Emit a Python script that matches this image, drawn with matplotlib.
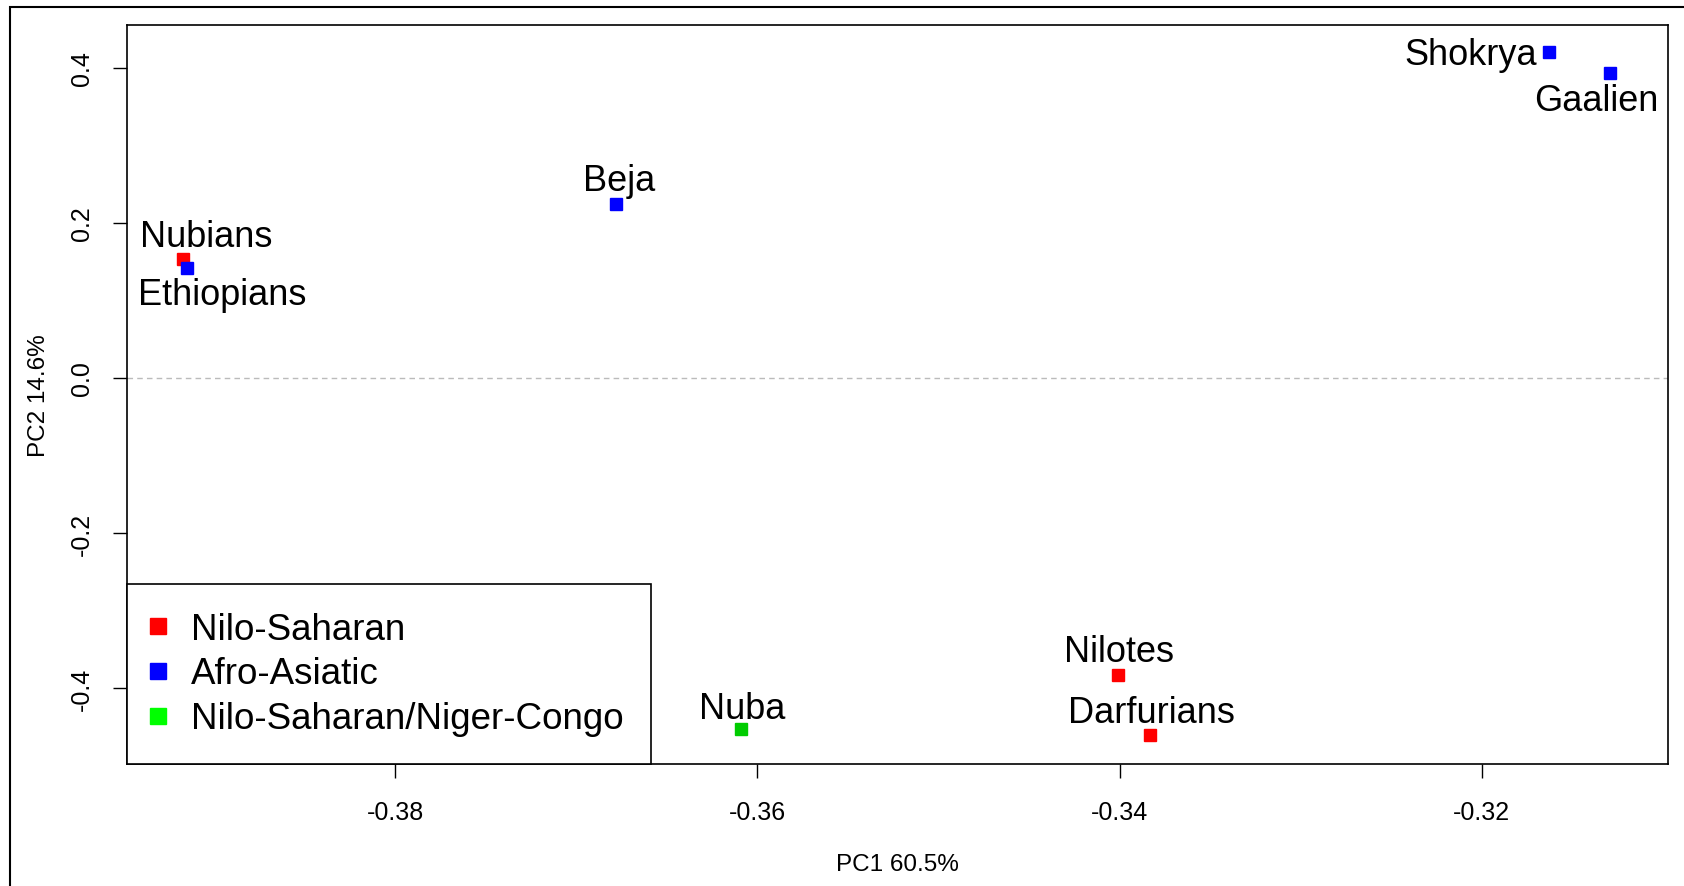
import matplotlib
matplotlib.use("Agg")
import matplotlib.pyplot as plt
from matplotlib.lines import Line2D
from matplotlib.patches import Rectangle

plt.rcParams['font.family'] = ['Liberation Sans', 'DejaVu Sans']

# population PCA coordinates
populations = ["Nubians", "Ethiopians", "Beja", "Shokrya", "Gaalien",
               "Nuba", "Nilotes", "Darfurians"]
pc1 = [-0.3917, -0.3915, -0.3678, -0.3163, -0.3129, -0.3609, -0.3401, -0.3383]
pc2 = [0.1535, 0.142, 0.2245, 0.4206, 0.3935, -0.453, -0.383, -0.4606]
groups = ["Nilo-Saharan", "Afro-Asiatic", "Afro-Asiatic", "Afro-Asiatic",
          "Afro-Asiatic", "Nilo-Saharan/Niger-Congo", "Nilo-Saharan",
          "Nilo-Saharan"]
group_order = ["Nilo-Saharan", "Afro-Asiatic", "Nilo-Saharan/Niger-Congo"]

x_ticks = [-0.38, -0.36, -0.34, -0.32]
y_ticks = [-0.4, -0.2, 0.0, 0.2, 0.4]

legend_colors = {"Nilo-Saharan": "#FF0000", "Afro-Asiatic": "#0000FF",
                 "Nilo-Saharan/Niger-Congo": "#00FF00"}
point_colors = {"Nilo-Saharan": "#FF0000", "Afro-Asiatic": "#0000FF",
                "Nilo-Saharan/Niger-Congo": "#00CC00"}

# label placement (pixel offsets, alignment)
label_style = {
    "Nubians": (23, 13, "center"),
    "Ethiopians": (35, -36, "center"),
    "Beja": (3, 14, "center"),
    "Shokrya": (-12, -12, "right"),
    "Gaalien": (-14, -37, "center"),
    "Nuba": (1, 11, "center"),
    "Nilotes": (1, 14, "center"),
    "Darfurians": (1, 13, "center"),
}

W, H = 1684, 887
fig = plt.figure(figsize=(W / 100, H / 100), dpi=100)
ax = fig.add_axes([127 / W, 1 - 765 / H, (1668 - 127) / W, (765 - 26) / H])

ax.axhline(0, color="#bbbbbb", linestyle=(0, (4, 3)), linewidth=1.0, zorder=1)

for name, x, y, g in zip(populations, pc1, pc2, groups):
    ax.plot(x, y, marker="s", markersize=8, color=point_colors[g],
            linestyle="none", zorder=3)
    dx, dy, ha = label_style[name]
    ax.annotate(name, (x, y), xytext=(dx, dy), textcoords="offset pixels",
                ha=ha, va="baseline", fontsize=26)

ax.set_xlim(-0.39481, -0.30972)
ax.set_ylim(-0.498, 0.4555)
ax.set_xticks(x_ticks)
ax.set_xticklabels([f"{v:.2f}" for v in x_ticks])
ax.set_yticks(y_ticks)
ax.set_yticklabels([f"{v:.1f}" for v in y_ticks], rotation=90, va="center")
ax.tick_params(axis="both", length=10, width=1, labelsize=18)
ax.tick_params(axis="x", pad=16)
ax.tick_params(axis="y", pad=14)
for s in ax.spines.values():
    s.set_linewidth(1.2)

ax.set_xlabel("PC1 60.5%", fontsize=17.5)
ax.set_ylabel("PC2 14.6%", fontsize=17.5)
ax.xaxis.set_label_coords(0.5, -100 / 739)
ax.yaxis.set_label_coords(-88 / 1541, 0.5)
ax.xaxis.label.set_va("center")
ax.yaxis.label.set_va("center")

handles = [Line2D([], [], marker="s", linestyle="none", markersize=11.5,
                  color=legend_colors[g]) for g in group_order]
leg = ax.legend(handles, group_order, loc="lower left", bbox_to_anchor=(0, 0),
                borderaxespad=0, fontsize=26.5, frameon=True, fancybox=False,
                edgecolor="black", framealpha=1, borderpad=0.75,
                handlelength=0.2, handletextpad=0.78, labelspacing=0.27)
leg.get_frame().set_linewidth(1.2)

# outer figure border (cropped)
fig.patches.append(Rectangle((10 / W, -0.5), 2, 0.5 + 1 - 8 / H, fill=False,
                             edgecolor="black", linewidth=1.5,
                             transform=fig.transFigure, figure=fig))

fig.savefig("out.png", dpi=100)
